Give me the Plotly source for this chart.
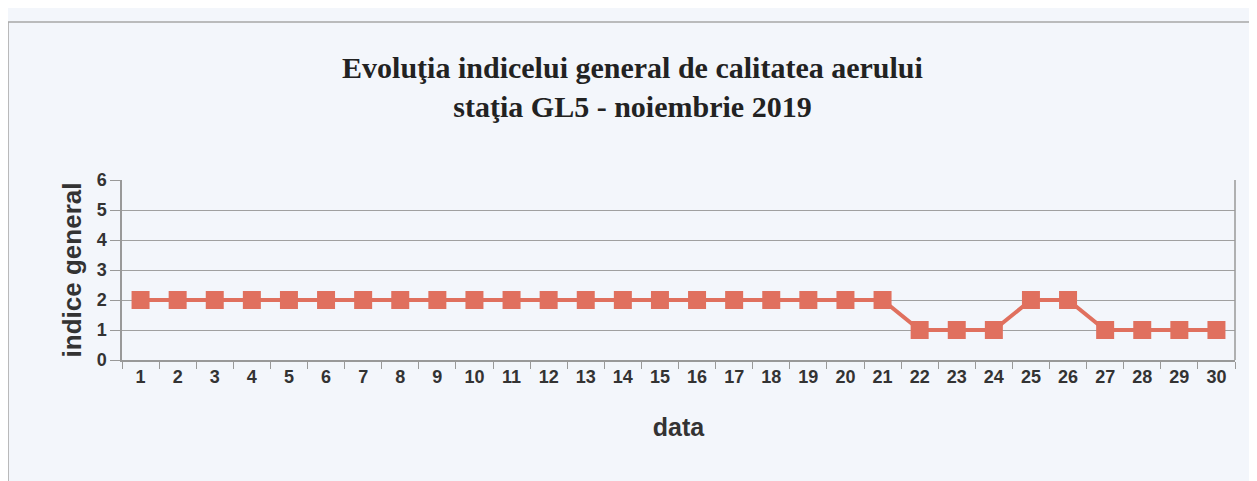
import plotly.graph_objects as go

days = [str(d) for d in range(1, 31)]
indice = [2]*21 + [1, 1, 1, 2, 2, 1, 1, 1, 1]
y_ticks = [0, 1, 2, 3, 4, 5, 6]

color = "#e0705e"
fig = go.Figure()
fig.add_trace(go.Scatter(
    x=days, y=indice, mode="lines+markers",
    line=dict(color=color, width=4),
    marker=dict(symbol="square", size=18, color=color),
    showlegend=False, cliponaxis=False,
))

fig.update_layout(
    width=1249, height=473,
    paper_bgcolor="#f3f6fb", plot_bgcolor="#f3f6fb",
    margin=dict(l=114, r=22, t=172, b=121),
    title=dict(
        text="<b>Evoluţia indicelui general de calitatea aerului<br>staţia GL5 - noiembrie 2019</b>",
        x=0.5, xanchor="center", y=0.853, yanchor="middle",
        font=dict(family="Liberation Serif", size=30, color="#222222"),
    ),
    font=dict(family="Liberation Sans", color="#333333"),
)
fig.update_xaxes(
    type="category", tickson="boundaries", ticks="outside", ticklen=7,
    range=[-0.5, 29.5],
    tickcolor="#999999", showline=True, linecolor="#999999", linewidth=1.5,
    showgrid=False, mirror=False,
    tickfont=dict(family="Liberation Sans", size=18, color="#333333", weight="bold"),
    title=dict(text="<b>data</b>", font=dict(family="Liberation Sans", size=25, color="#333333"), standoff=32),
)
fig.update_yaxes(
    range=[0, 6], tickvals=y_ticks, ticks="outside", ticklen=10, tickcolor="#999999",
    showline=True, linecolor="#999999", linewidth=1.5,
    showgrid=True, gridcolor="#a0a0a0", gridwidth=1.2, zeroline=False,
    tickfont=dict(family="Liberation Sans", size=18, color="#333333", weight="bold"),
    title=dict(text="<b>indice general</b>", font=dict(family="Liberation Sans", size=26, color="#333333"), standoff=8),
)
# right border of plot area
fig.add_shape(type="line", xref="paper", yref="paper", x0=1, x1=1, y0=0, y1=1,
              line=dict(color="#999999", width=1.5))
# outer chart box
fig.add_shape(type="rect", xref="paper", yref="paper",
              x0=-0.1024, x1=1.05, y0=-0.75, y1=1.878,
              line=dict(color="#a8a8a8", width=1.5))
fig.write_html("out.html")
